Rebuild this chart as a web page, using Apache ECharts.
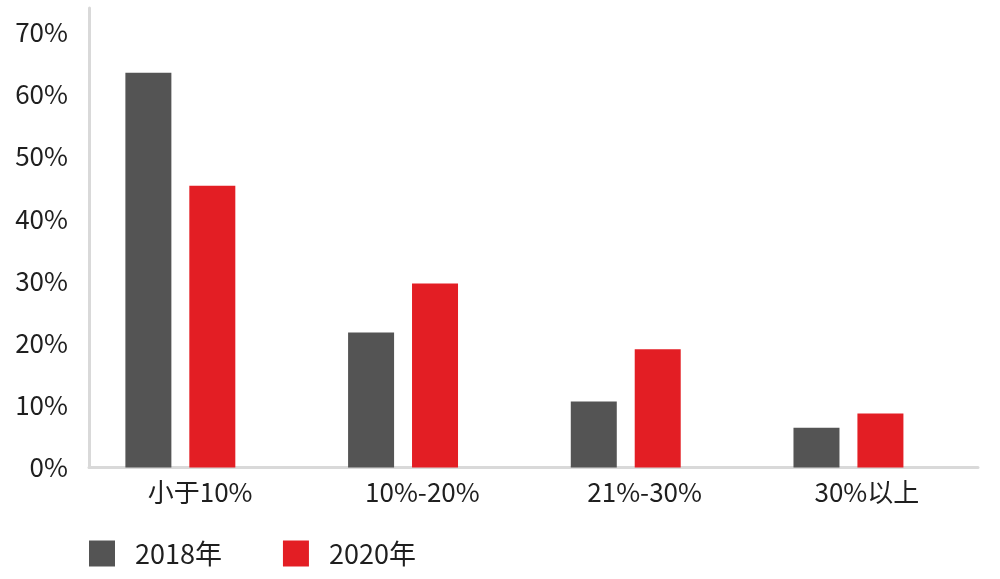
<!DOCTYPE html>
<html>
<head>
<meta charset="utf-8">
<script src="https://cdn.jsdelivr.net/npm/echarts@6/dist/echarts.min.js"></script>
<style>html,body{margin:0;padding:0;background:#fff}#c{width:1000px;height:579px}</style>
</head>
<body>
<div id="c"></div>
<script>
const categories = ['小于10%', '10%-20%', '21%-30%', '30%以上'];
const seriesNames = ['2018年', '2020年'];
const values2018 = [63.5, 21.7, 10.6, 6.4];
const values2020 = [45.3, 29.6, 19.0, 8.7];
const yTicks = [0, 10, 20, 30, 40, 50, 60, 70];

const FONT = '"Noto Sans CJK SC", "Noto Sans", sans-serif';
const chart = echarts.init(document.getElementById('c'), null, {renderer: 'canvas'});
const yMax = 73.9;
const axisColor = '#d9d9d9';
const textColor = '#1f1f1f';

chart.setOption({
  animation: false,
  textStyle: {fontFamily: FONT},
  color: ['#545454', '#e31e24'],
  grid: [
    {left: 69, right: 40.2, top: 8, bottom: 111.5},
    {left: 89, right: 22, top: 8, bottom: 111.5}
  ],
  legend: {
    data: seriesNames,
    left: 84, top: 535,
    itemWidth: 26, itemHeight: 26, itemGap: 61,
    icon: 'rect',
    textStyle: {fontSize: 27, color: textColor, fontFamily: FONT, padding: [0, 0, 0, 15]}
  },
  xAxis: [
    {type: 'category', gridIndex: 0, data: categories, show: false},
    {type: 'category', gridIndex: 1, data: categories,
     axisLine: {show: true, lineStyle: {color: axisColor, width: 3}},
     axisTick: {show: false},
     axisLabel: {fontSize: 26, color: textColor, margin: 12, fontFamily: FONT}}
  ],
  yAxis: [
    {type: 'value', gridIndex: 0, min: 0, max: yMax, show: false},
    {type: 'value', gridIndex: 1, min: 0, max: yMax, interval: 10,
     axisLine: {show: true, lineStyle: {color: axisColor, width: 3}},
     axisTick: {show: false},
     splitLine: {show: false},
     axisLabel: {fontSize: 26, color: textColor, margin: 21, fontFamily: FONT,
       formatter: v => yTicks.indexOf(Math.round(v * 1000) / 1000) >= 0 ? v + '%' : ''}}
  ],
  series: [
    {name: seriesNames[0], type: 'bar', xAxisIndex: 0, yAxisIndex: 0, data: values2018,
     barWidth: 46, barGap: '39%'},
    {name: seriesNames[1], type: 'bar', xAxisIndex: 0, yAxisIndex: 0, data: values2020,
     barWidth: 46, barGap: '39%'}
  ]
});
</script>
</body>
</html>
